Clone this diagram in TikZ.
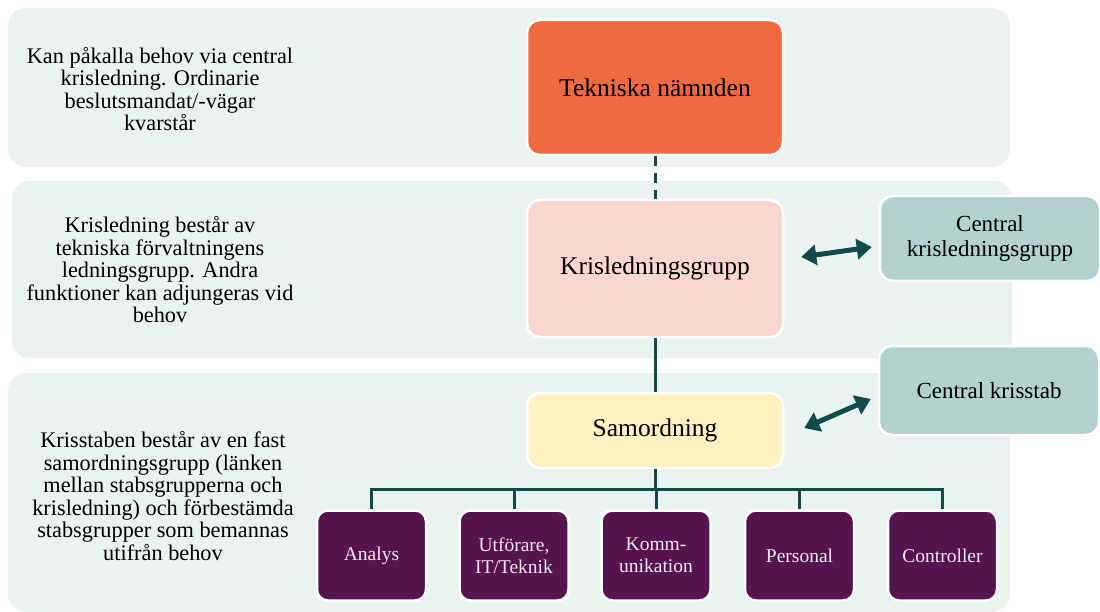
\documentclass[tikz,border=0pt]{standalone}
\usepackage{fontspec}
\setmainfont{Liberation Serif}
\usetikzlibrary{arrows.meta,calc}
\definecolor{band}{HTML}{EBF3F2}
\definecolor{orangebox}{HTML}{EE6B41}
\definecolor{pinkbox}{HTML}{FAD6D0}
\definecolor{yellowbox}{HTML}{FFF2C0}
\definecolor{tealbox}{HTML}{B2D1D0}
\definecolor{purplebox}{HTML}{55144D}
\definecolor{linecol}{HTML}{0E4B4A}
\definecolor{lighttext}{HTML}{F2E6EE}
\tikzset{
  bandbox/.style={fill=band, draw=none, rounded corners=18pt},
  mainbox/.style={draw=white, line width=2.5pt, rounded corners=13pt, inner sep=0pt, align=center, font=\fontsize{25.5}{29}\selectfont},
  sidebox/.style={draw=white, line width=2.5pt, rounded corners=13pt, fill=tealbox, minimum width=220pt, inner sep=0pt, align=center, font=\fontsize{23}{25}\selectfont},
  subbox/.style={draw=white, line width=2.5pt, rounded corners=11pt, fill=purplebox, text=lighttext, minimum width=109pt, minimum height=90pt, inner sep=0pt, align=center, font=\fontsize{19.5}{22}\selectfont},
  desc/.style={align=center, font=\fontsize{22.3}{22.5}\selectfont},
  conn/.style={draw=linecol, line width=3pt},
  dashconn/.style={conn, dash pattern=on 10pt off 7pt},
  dbl/.style={draw=linecol, line width=5pt, {Triangle[length=15pt,width=20pt]}-{Triangle[length=15pt,width=20pt]}}
}
\begin{document}
\begin{tikzpicture}[x=1pt,y=-1pt]
\useasboundingbox (0,0) rectangle (1100,612);
% bands
\fill[bandbox] (8,8) rectangle (1010,167);
\fill[bandbox] (12,181) rectangle (1012,358);
\fill[bandbox] (8,373) rectangle (1010,612);
% descriptions
\node[desc] (d1) at (160,89) {Kan påkalla behov via central\\krisledning. Ordinarie\\beslutsmandat/-vägar\\kvarstår};
\node[desc] (d2) at (160,270) {Krisledning består av\\tekniska förvaltningens\\ledningsgrupp. Andra\\funktioner kan adjungeras vid\\behov};
\node[desc] (d3) at (163,496) {Krisstaben består av en fast\\samordningsgrupp (länken\\mellan stabsgrupperna och\\krisledning) och förbestämda\\stabsgrupper som bemannas\\utifrån behov};
% main boxes
\node[mainbox, fill=orangebox, minimum width=256pt, minimum height=135pt] (tek) at (655,87.5) {Tekniska nämnden};
\node[mainbox, fill=pinkbox, minimum width=256pt, minimum height=137pt] (kris) at (655,268.5) {Krisledningsgrupp};
\node[mainbox, fill=yellowbox, minimum width=256pt, minimum height=75pt] (samo) at (655,430.5) {Samordning};
% side boxes
\node[sidebox, minimum height=85pt] (ckg) at (990,238.5) {Central\\krisledningsgrupp};
\node[sidebox, minimum height=89pt] (cks) at (989,390.5) {Central krisstab};
% sub boxes
\node[subbox] (ana) at (371.5,555.5) {Analys};
\node[subbox] (utf) at (514,555.5) {Utförare,\\IT/Teknik};
\node[subbox] (kom) at (656,555.5) {Komm-\\unikation};
\node[subbox] (per) at (799.5,555.5) {Personal};
\node[subbox] (con) at (942.5,555.5) {Controller};
% connectors
\draw[dashconn] (tek.south) -- (kris.north);
\draw[conn] (kris.south) -- (samo.north);
\coordinate (bus) at (655,489);
\draw[conn] (samo.south) -- (bus);
\draw[conn] (ana.north) |- (bus);
\draw[conn] (utf.north) |- (bus);
\draw[conn] (kom.north) |- (bus);
\draw[conn] (per.north) |- (bus);
\draw[conn] (con.north) |- (bus);
\draw[dbl] ([xshift=17pt,yshift=11.5pt]kris.east) -- ([xshift=-7pt,yshift=-8.5pt]ckg.west);
\draw[dbl] ([xshift=20pt,yshift=2.5pt]samo.east) -- ([xshift=-7pt,yshift=-8.5pt]cks.west);
\end{tikzpicture}
\end{document}
